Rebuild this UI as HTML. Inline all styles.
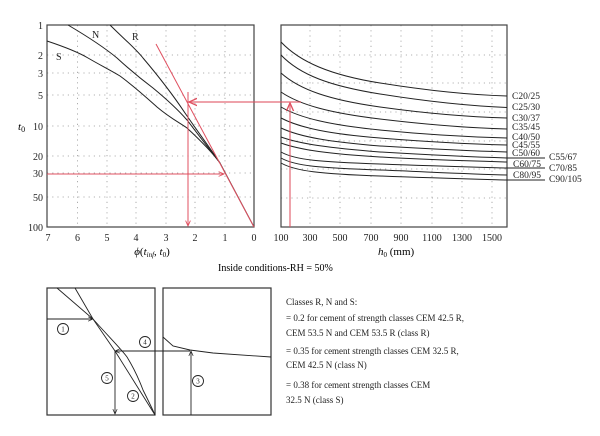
<!DOCTYPE html>
<html><head><meta charset="utf-8"><style>
body{margin:0;background:#fff}
svg{display:block;font-family:"Liberation Serif",serif}
</style></head><body>
<svg width="600" height="436" viewBox="0 0 600 436" xmlns="http://www.w3.org/2000/svg">
<defs>
<marker id="ar" viewBox="0 0 10 10" refX="9" refY="5" markerWidth="6" markerHeight="6" orient="auto"><path d="M0,1 L9,5 L0,9" fill="none" stroke="#e05060" stroke-width="1.5"/></marker>
<marker id="ak" viewBox="0 0 10 10" refX="9" refY="5" markerWidth="6" markerHeight="6" orient="auto"><path d="M0,1 L9,5 L0,9" fill="none" stroke="#222" stroke-width="1.3"/></marker>
</defs>
<g stroke="#999" stroke-width="0.8" stroke-dasharray="1.2,4" fill="none">
<path d="M77.5 25V227M107 25V227M136 25V227M166 25V227M195 25V227M225 25V227"/>
<path d="M47 55H254M47 73H254M47 95H254M47 126H254M47 156H254M47 173H254M47 197H254"/>
<path d="M310 25V227M340 25V227M371 25V227M401 25V227M432 25V227M462 25V227M492 25V227"/>
<path d="M281 55H507M281 83H507M281 112H507M281 141H507M281 169H507M281 198H507"/>
</g>
<rect x="47" y="25" width="207" height="202" fill="none" stroke="#444" stroke-width="1.2"/>
<rect x="281" y="25" width="226" height="202" fill="none" stroke="#444" stroke-width="1.2"/>
<g font-size="10" fill="#222" text-anchor="end">
<text x="43" y="29">1</text><text x="43" y="59">2</text><text x="43" y="77">3</text><text x="43" y="99">5</text><text x="43" y="130">10</text><text x="43" y="160">20</text><text x="43" y="177">30</text><text x="43" y="201">50</text><text x="43" y="231">100</text>
</g>
<text x="18" y="130" font-size="11" font-style="italic">t<tspan font-size="8" dy="2" font-style="normal">0</tspan></text>
<g font-size="10" fill="#222" text-anchor="middle">
<text x="48" y="241">7</text><text x="77.5" y="241">6</text><text x="107" y="241">5</text><text x="136" y="241">4</text><text x="166" y="241">3</text><text x="195" y="241">2</text><text x="225" y="241">1</text><text x="254" y="241">0</text>
<text x="281" y="241">100</text><text x="310" y="241">300</text><text x="340" y="241">500</text><text x="371" y="241">700</text><text x="401" y="241">900</text><text x="432" y="241">1100</text><text x="462" y="241">1300</text><text x="492" y="241">1500</text>
</g>
<text x="152" y="255" font-size="11" text-anchor="middle"><tspan font-style="italic">ϕ</tspan>(<tspan font-style="italic">t</tspan><tspan font-size="7" dy="2" font-style="italic">inf</tspan><tspan dy="-2">, </tspan><tspan font-style="italic">t</tspan><tspan font-size="7" dy="2">0</tspan><tspan dy="-2">)</tspan></text>
<text x="378" y="255" font-size="11" ><tspan font-style="italic">h</tspan><tspan font-size="7" dy="2">0</tspan><tspan dy="-2"> (mm)</tspan></text>
<text x="218" y="271" font-size="10">Inside conditions-RH = 50%</text>
<g fill="none" stroke="#222" stroke-width="1">
<path d="M110 25 C125 40 135 48 143 58 C160 78 175 98 185 113 C198 132 210 148 220 163 L254 227"/>
<path d="M68 25 C90 38 105 48 117 58 C130 70 145 82 153 88 C170 102 180 112 187 120 C200 137 210 150 220 163"/>
<path d="M47 41 C65 47 78 52 88 58 C100 65 110 70 120 76 C135 87 147 98 157 107 C170 118 180 123 187 128 C200 140 212 152 220 163"/>
</g>
<g font-size="10" fill="#222"><text x="92" y="38">N</text><text x="132" y="40">R</text><text x="56" y="60">S</text></g>
<g fill="none" stroke="#222" stroke-width="1">
<path d="M281 42 C300 62 330 75 380 83 C430 91 470 95 507 96"/>
<path d="M281 55 C300 75 330 86 380 94 C430 102 470 106 507 107.5"/>
<path d="M281 73 C300 90 330 100 380 107 C430 114 470 117 507 118"/>
<path d="M281 92 C300 105 330 113 380 119 C430 125 470 128 507 129"/>
<path d="M281 107 C300 118 330 125 380 130 C430 135 470 137 507 138"/>
<path d="M281 118 C300 128 330 134 380 138 C430 142 470 144 507 145"/>
<path d="M281 128 C300 137 330 142 380 146 C430 149 470 151 507 152"/>
<path d="M281 137 C300 144 330 148 380 152 C430 155 470 157 507 158"/>
<path d="M281 143 C300 150 330 154 380 157 C430 160 470 161 507 162"/>
<path d="M281 152 C295 160 320 162 380 164 C430 166 470 167 507 168"/>
<path d="M281 158 C295 166 320 168 380 170 C430 172 470 174 507 175"/>
<path d="M281 163 C295 171 320 174 380 176 C430 178 470 179 507 180"/>
<path d="M507 158H545M507 168H545M507 180H545"/>
</g>
<g font-size="9.5" fill="#222">
<text x="512" y="99">C20/25</text><text x="512" y="110">C25/30</text><text x="512" y="121">C30/37</text><text x="512" y="130">C35/45</text><text x="512" y="140">C40/50</text><text x="512" y="148">C45/55</text><text x="512" y="156">C50/60</text><text x="549" y="160">C55/67</text><text x="513" y="167">C60/75</text><text x="549" y="171">C70/85</text><text x="513" y="178">C80/95</text><text x="549" y="182">C90/105</text>
</g>
<g stroke="#e05060" stroke-width="1" fill="none">
<path d="M156 44 L254 227"/>
<path d="M47 174 H224" marker-end="url(#ar)"/>
<path d="M188 92 V226" marker-end="url(#ar)"/>
<path d="M301 102 H189" marker-end="url(#ar)" stroke-opacity="0.7" stroke-width="1.5"/>
<path d="M290 227 V103" marker-end="url(#ar)" stroke-opacity="0.7" stroke-width="1.5"/>
</g>
<rect x="47" y="288" width="108" height="127" fill="none" stroke="#333" stroke-width="1.2"/>
<rect x="163" y="288" width="108" height="127" fill="none" stroke="#333" stroke-width="1.2"/>
<g fill="none" stroke="#222" stroke-width="0.9">
<path d="M57 288 L93 319 L115 351 L155 415"/>
<path d="M75 288 L93 319 C110 338 122 350 127 357 C135 370 140 382 143 390 C148 400 152 408 155 415"/>
<path d="M47 319 H93" marker-end="url(#ak)"/>
<path d="M190 351 H115" marker-end="url(#ak)"/>
<path d="M115 351 V414" marker-end="url(#ak)"/>
<path d="M191 415 V351" marker-end="url(#ak)"/>
<path d="M163 337 L173 346 L190 350 L213 353 L271 357"/>
<circle cx="63" cy="329" r="5.5"/><circle cx="145" cy="342" r="5.5"/><circle cx="107" cy="378" r="5.5"/><circle cx="133" cy="396" r="5.5"/><circle cx="198" cy="381" r="5.5"/>
</g>
<g font-size="7" text-anchor="middle" fill="#222"><text x="63" y="331.5">1</text><text x="145" y="344.5">4</text><text x="107" y="380.5">5</text><text x="133" y="398.5">2</text><text x="198" y="383.5">3</text></g>
<g font-size="9" fill="#222">
<text x="286" y="305">Classes R, N and S:</text>
<text x="286" y="321">= 0.2 for cement of strength classes CEM 42.5 R,</text>
<text x="286" y="336">CEM 53.5 N and CEM 53.5 R (class R)</text>
<text x="286" y="354">= 0.35 for cement strength classes CEM 32.5 R,</text>
<text x="286" y="368">CEM 42.5 N (class N)</text>
<text x="286" y="388">= 0.38 for cement strength classes CEM</text>
<text x="286" y="403">32.5 N (class S)</text>
</g>
</svg>
</body></html>
